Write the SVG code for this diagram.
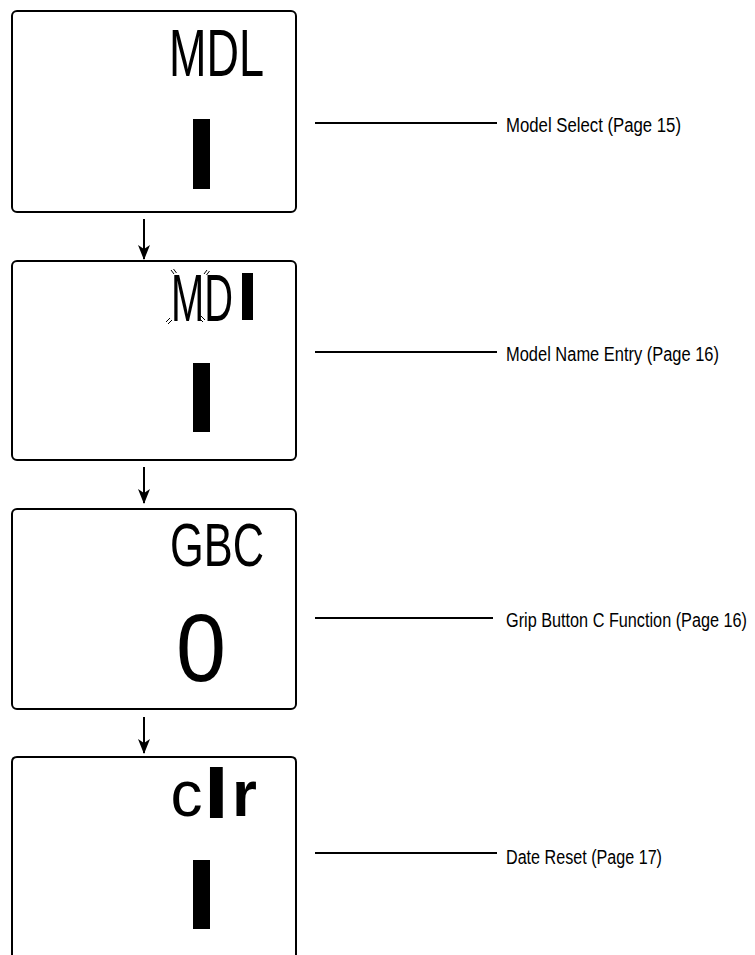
<svg xmlns="http://www.w3.org/2000/svg" width="755" height="955" viewBox="0 0 755 955">
<defs>
<style>
.box{fill:#fff;stroke:#000;stroke-width:2}
.lcd{font-family:"Liberation Sans",Arial,sans-serif;fill:#000}
.lbl{font-family:"Liberation Sans",Arial,sans-serif;font-size:16.4px;fill:#000}
.ln{stroke:#000;stroke-width:2;fill:none}
.tick{stroke:#000;stroke-width:1}
</style>
<marker id="ah" markerWidth="16" markerHeight="12" refX="14" refY="6" orient="auto" markerUnits="userSpaceOnUse" viewBox="0 0 16 12">
<path d="M0,0 L15,6 L0,12 L4,6 Z" fill="#000"/>
</marker>
</defs>
<rect width="755" height="955" fill="#fff"/>

<g id="screen-mdl">
<rect class="box" x="12" y="11" width="284" height="201" rx="5"/>
<text class="lcd" x="169" y="76" font-size="66" textLength="95" lengthAdjust="spacingAndGlyphs">MDL</text>
<rect x="193" y="119" width="17" height="70" fill="#000"/>
</g>

<g id="screen-name">
<rect class="box" x="12" y="261" width="284" height="199" rx="5"/>
<text class="lcd" x="171" y="321" font-size="67" textLength="62" lengthAdjust="spacingAndGlyphs">MD</text>
<rect x="242" y="273" width="11" height="47" fill="#000"/>
<line class="tick" x1="171" y1="270" x2="174" y2="274"/>
<line class="tick" x1="173.5" y1="269" x2="176.5" y2="273"/>
<line class="tick" x1="204" y1="274" x2="207" y2="270"/>
<line class="tick" x1="206.5" y1="275" x2="209.5" y2="271"/>
<line class="tick" x1="166" y1="322" x2="170" y2="318"/>
<line class="tick" x1="168" y1="324" x2="172" y2="320"/>
<line class="tick" x1="199" y1="318" x2="203" y2="322"/>
<line class="tick" x1="201" y1="316" x2="205" y2="320"/>
<rect x="193" y="363" width="17" height="69" fill="#000"/>
</g>

<g id="screen-gbc">
<rect class="box" x="12" y="509" width="284" height="200" rx="5"/>
<text class="lcd" x="170" y="566" font-size="62" textLength="94" lengthAdjust="spacingAndGlyphs">GBC</text>
<text class="lcd" x="176" y="681" font-size="96" textLength="50" lengthAdjust="spacingAndGlyphs">0</text>
</g>

<g id="screen-clr">
<path class="box" d="M12,960 V762 Q12,757 17,757 H291 Q296,757 296,762 V960"/>
<text class="lcd" y="816" font-size="64"><tspan x="170.5">c</tspan><tspan x="207.5" font-weight="bold" stroke="#000" stroke-width="4">l</tspan><tspan x="232" font-weight="bold">r</tspan></text>
<rect x="193" y="860" width="17" height="69" fill="#000"/>
</g>

<g id="connectors">
<line class="ln" x1="144" y1="219" x2="144" y2="259" marker-end="url(#ah)"/>
<line class="ln" x1="144" y1="467" x2="144" y2="503" marker-end="url(#ah)"/>
<line class="ln" x1="144" y1="717" x2="144" y2="753" marker-end="url(#ah)"/>
<line class="ln" x1="315" y1="123" x2="497" y2="123"/>
<line class="ln" x1="315" y1="352" x2="497" y2="352"/>
<line class="ln" x1="315" y1="618" x2="493" y2="618"/>
<line class="ln" x1="315" y1="853" x2="497" y2="853"/>
</g>

<g id="label-model-select"><text class="lbl" transform="translate(506,132) scale(1,1.22)" x="0" y="0" textLength="175" lengthAdjust="spacingAndGlyphs">Model Select (Page 15)</text></g>
<g id="label-model-name"><text class="lbl" transform="translate(506,361) scale(1,1.22)" x="0" y="0" textLength="213" lengthAdjust="spacingAndGlyphs">Model Name Entry (Page 16)</text></g>
<g id="label-grip"><text class="lbl" transform="translate(506,627) scale(1,1.22)" x="0" y="0" textLength="241" lengthAdjust="spacingAndGlyphs">Grip Button C Function (Page 16)</text></g>
<g id="label-date"><text class="lbl" transform="translate(506,864) scale(1,1.22)" x="0" y="0" textLength="156" lengthAdjust="spacingAndGlyphs">Date Reset (Page 17)</text></g>
</svg>
